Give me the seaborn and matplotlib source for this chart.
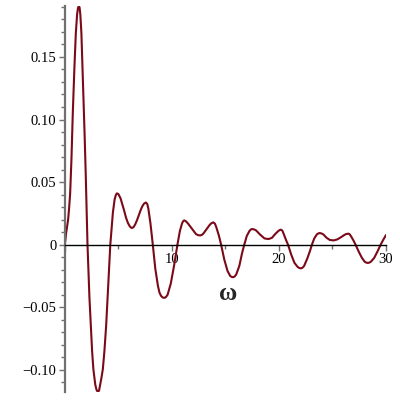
import numpy as np
import pandas as pd
import matplotlib
matplotlib.use("Agg")
import matplotlib.pyplot as plt
from matplotlib.ticker import MultipleLocator, FuncFormatter
import seaborn as sns

# values (omega, response)
omega = [
    0.0, 0.06, 0.12, 0.2, 0.31, 0.4, 0.5, 0.62, 0.75, 0.9, 1.03, 1.15, 1.23, 1.31, 1.38, 1.45, 1.55, 1.64, 1.74, 1.85, 1.95, 2.05, 2.12,
    2.3, 2.43, 2.55, 2.67, 2.85, 2.96, 3.08, 3.2, 3.3, 3.42, 3.55, 3.7, 3.86, 4.05, 4.25, 4.49, 4.65, 4.76, 4.86, 5.0,
    5.21, 5.38, 5.55, 5.72, 5.9, 6.08, 6.25, 6.42, 6.58, 6.75, 6.91, 7.08, 7.24, 7.4, 7.57, 7.7,
    7.8, 8.0, 8.22, 8.45, 8.7, 8.85, 9.0, 9.15, 9.31, 9.45,
    9.6, 9.9, 10.2, 10.52, 10.75, 10.95, 11.05, 11.15, 11.3,
    11.5, 11.9, 12.25, 12.45, 12.64, 12.8, 12.95, 13.25, 13.55, 13.72, 13.88, 14.02,
    14.15, 14.4, 14.6, 14.9, 15.2, 15.45, 15.58, 15.7, 15.85,
    16.0, 16.3, 16.55, 16.76, 17.0, 17.25, 17.37, 17.48, 17.65,
    17.85, 18.25, 18.65, 19.03, 19.35, 19.65, 19.95, 20.07, 20.19, 20.32,
    20.45, 20.65, 20.85, 21.15, 21.45, 21.75, 21.9, 22.06, 22.2,
    22.35, 22.65, 22.9, 23.08, 23.3, 23.55, 23.68, 23.8, 23.97,
    24.15, 24.45, 24.75, 25.1, 25.45, 25.8, 26.15, 26.32, 26.5, 26.62,
    26.75, 26.95, 27.16, 27.45, 27.75, 28.0, 28.15, 28.3, 28.45,
    28.6, 28.9, 29.2, 29.5, 29.75, 30.0,
]
response = [
    0.0, 0.004, 0.009, 0.0135, 0.02, 0.029, 0.041, 0.068, 0.106, 0.142, 0.169, 0.184, 0.189, 0.1907, 0.1895, 0.184, 0.169, 0.145, 0.118, 0.088, 0.058, 0.024, 0.0,
    -0.042, -0.065, -0.085, -0.0996, -0.112, -0.1158, -0.1177, -0.1165, -0.112, -0.1065, -0.0996, -0.085, -0.065, -0.033, 0.0, 0.0255, 0.036, 0.0395, 0.041, 0.0405,
    0.037, 0.032, 0.027, 0.0215, 0.0173, 0.0145, 0.0133, 0.014, 0.0163, 0.0197, 0.0235, 0.0275, 0.0307, 0.0328, 0.0337, 0.0325,
    0.029, 0.017, 0.0, -0.019, -0.033, -0.0385, -0.041, -0.0422, -0.0425, -0.0418,
    -0.04, -0.031, -0.017, 0.0, 0.011, 0.017, 0.0187, 0.0194, 0.0188,
    0.017, 0.0125, 0.0085, 0.0076, 0.0074, 0.0078, 0.009, 0.0125, 0.016, 0.0173, 0.0178, 0.0168,
    0.014, 0.007, 0.0, -0.012, -0.021, -0.025, -0.0257, -0.026, -0.0255,
    -0.024, -0.017, -0.007, 0.0, 0.007, 0.011, 0.0121, 0.0125, 0.0123,
    0.0115, 0.008, 0.005, 0.0045, 0.0055, 0.0085, 0.011, 0.0117, 0.012, 0.0112,
    0.0085, 0.004, 0.0, -0.008, -0.0145, -0.0178, -0.0186, -0.0189, -0.0184,
    -0.017, -0.011, -0.005, 0.0, 0.005, 0.0083, 0.009, 0.0093, 0.009,
    0.0082, 0.0055, 0.0038, 0.0034, 0.0042, 0.006, 0.008, 0.0086, 0.0088, 0.0082,
    0.0065, 0.0035, 0.0, -0.0055, -0.0105, -0.0135, -0.0143, -0.0146, -0.0143,
    -0.0135, -0.0105, -0.0055, 0.0, 0.004, 0.0077,
]

df = pd.DataFrame({"omega": omega, "response": response})

sns.set_style("white")
plt.rcParams["font.family"] = ["Liberation Serif", "DejaVu Serif"]
plt.rcParams["axes.unicode_minus"] = True

fig = plt.figure(figsize=(4, 4), dpi=100)
ax = fig.add_axes([0.162, 0.019, 0.803, 0.967])

sns.lineplot(data=df, x="omega", y="response", ax=ax, color="#7A0A18", linewidth=1.5)

ax.set_xlim(0, 30)
ax.set_ylim(-0.118, 0.191)

# maple-like axes: y axis at left, x axis through zero
ax.spines["top"].set_visible(False)
ax.spines["right"].set_visible(False)
ax.spines["bottom"].set_position(("data", 0))
ax.spines["bottom"].set_color("black")
ax.spines["bottom"].set_linewidth(1.0)
ax.spines["left"].set_color("#707070")
ax.spines["left"].set_linewidth(1.6)

ax.xaxis.set_major_locator(MultipleLocator(10))
ax.xaxis.set_minor_locator(MultipleLocator(5))
ax.yaxis.set_major_locator(MultipleLocator(0.05))
ax.yaxis.set_minor_locator(MultipleLocator(0.01))

ax.xaxis.set_major_formatter(FuncFormatter(lambda v, p: "" if v == 0 else f"{v:.0f}"))
ax.yaxis.set_major_formatter(
    FuncFormatter(lambda v, p: "0" if abs(v) < 1e-9 else f"{v:.2f}".replace("-", "\u2212"))
)

ax.tick_params(axis="both", which="both", direction="out", colors="#707070",
               labelcolor="black", labelsize=10.5, left=True, bottom=True)
ax.tick_params(axis="y", which="major", length=4, width=1, pad=2)
ax.tick_params(axis="y", which="minor", length=3, width=1)
ax.tick_params(axis="x", which="major", length=4, width=1, pad=2)
ax.tick_params(axis="x", which="minor", length=3, width=1)

ax.set_ylabel("")
ax.set_xlabel("ω", fontsize=18, fontweight="bold")
ax.xaxis.set_label_coords(0.508, 0.285)

fig.savefig("out.png", dpi=100)
